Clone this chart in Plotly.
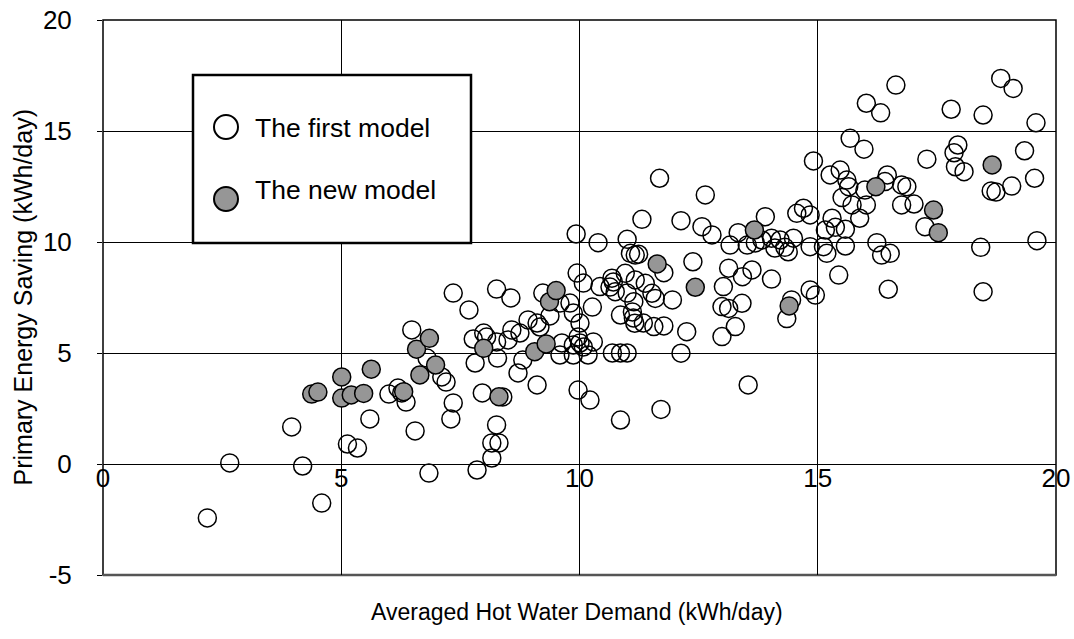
import plotly.graph_objects as go

# ---- data ----
first_x = [2.19, 2.66, 3.96, 4.19, 4.59, 5.13, 5.34,
           6.00, 6.19, 6.27, 6.36, 7.11, 7.20, 6.80, 7.35, 7.30, 5.60, 6.55, 7.81, 8.28,
           7.96, 8.39, 8.26, 8.16, 8.31, 8.16, 7.85, 6.84, 8.71, 8.81, 9.11, 9.59, 9.87,
           9.97, 10.22, 10.86, 11.71, 13.54, 12.13,
           7.35, 7.68, 8.26, 8.56, 6.48, 7.77, 7.99, 8.05, 8.26, 8.50, 8.58, 8.75, 8.92,
           9.17, 9.23, 9.38, 9.59, 9.80, 9.87, 9.95, 9.63, 9.11, 9.93,
           10.08, 10.27, 9.97, 10.01, 9.87, 10.08, 10.29, 10.18, 10.69, 10.86, 11.00,
           10.86, 11.11, 11.13, 10.64, 10.71, 11.00, 11.34, 10.01,
           11.16, 11.56, 11.77, 12.25, 12.99, 13.27, 14.35, 11.68, 12.64, 11.31, 12.13,
           12.57, 12.78, 10.39, 11.00, 11.07, 11.17, 11.24, 11.77, 12.38, 13.13, 13.42,
           13.62, 14.03, 13.02, 13.16, 13.33, 13.90, 13.83, 13.52, 13.69, 14.03, 14.10,
           14.21, 14.31, 14.38, 14.49, 14.56, 14.70, 14.84, 14.91, 14.84, 14.45, 14.84,
           14.95, 10.68, 10.75, 10.96, 11.17, 11.38, 11.52, 11.59, 10.43, 11.14, 11.95,
           12.99, 13.13, 13.41,
           16.64, 16.02, 16.32, 17.80, 18.47, 18.84, 19.10, 19.58, 15.68, 15.97, 17.29,
           17.94, 17.86, 17.89, 18.07, 19.34, 19.55, 19.07, 18.64, 18.74, 15.26, 15.47,
           15.61, 15.65, 16.46, 16.41, 16.76, 16.87, 15.99, 15.51, 15.72, 16.02, 15.88,
           16.76, 17.02, 17.25, 15.30, 15.16, 15.37, 15.58, 15.12, 15.19, 15.58, 16.24,
           16.34, 16.52, 15.44, 16.48, 18.42, 18.47, 19.60]
first_y = [-2.43, 0.05, 1.67, -0.09, -1.76, 0.90, 0.72,
           3.15, 3.42, 3.20, 2.79, 3.92, 3.69, 4.77, 2.75, 2.03, 2.03, 1.49, 4.55, 4.77,
           3.20, 3.02, 1.76, 0.95, 0.95, 0.27, -0.27, -0.41, 4.10, 4.68, 3.56, 4.91, 4.91,
           3.33, 2.88, 1.98, 2.46, 3.56, 4.99,
           7.70, 6.94, 7.88, 7.48, 6.04, 5.63, 5.90, 5.72, 5.50, 5.59, 6.04, 5.90, 6.49,
           6.17, 7.70, 6.67, 7.25, 7.25, 6.80, 8.60, 5.45, 6.35, 10.36,
           8.15, 7.07, 5.72, 5.45, 5.36, 5.27, 5.50, 4.91, 5.00, 5.00, 5.00,
           6.71, 6.85, 6.58, 7.97, 8.20, 7.70, 6.35, 6.35,
           6.34, 6.19, 6.22, 5.96, 5.74, 6.19, 6.55, 12.87, 12.12, 11.02, 10.96,
           10.69, 10.32, 9.97, 10.12, 9.49, 9.41, 9.45, 8.62, 9.11, 8.82, 8.44,
           8.74, 8.33, 7.99, 9.86, 10.42, 11.14, 10.09, 9.86, 9.96, 10.17, 9.73,
           10.09, 9.76, 9.56, 10.17, 11.29, 11.52, 11.22, 13.65, 9.79, 7.39, 7.84,
           7.61, 8.37, 7.76, 8.59, 8.29, 8.14, 7.69, 7.46, 7.99, 7.31, 7.39,
           7.09, 7.01, 7.24,
           17.07, 16.25, 15.82, 15.98, 15.72, 17.37, 16.92, 15.37, 14.67, 14.18, 13.73,
           14.37, 14.02, 13.39, 13.17, 14.11, 12.87, 12.52, 12.30, 12.25, 13.02, 13.24,
           12.79, 12.49, 13.02, 12.72, 12.57, 12.49, 12.34, 12.00, 11.67, 11.67, 11.07,
           11.67, 11.71, 10.69, 11.07, 10.54, 10.66, 10.57, 9.79, 9.49, 9.82, 9.97,
           9.41, 9.49, 8.51, 7.87, 9.76, 7.76, 10.06]

new_x = [4.38, 4.51, 5.01, 5.01, 5.21, 5.47, 5.63, 6.31, 6.58, 6.85, 6.65, 6.98, 7.99,
         8.31, 9.06, 9.30, 9.37, 9.51, 11.63, 12.43, 13.67, 14.40, 16.22, 17.43, 17.53, 18.66]
new_y = [3.15, 3.24, 3.92, 2.97, 3.11, 3.18, 4.27, 3.26, 5.17, 5.66, 4.01, 4.46, 5.21,
         3.03, 5.06, 5.41, 7.31, 7.81, 9.01, 7.96, 10.54, 7.12, 12.49, 11.44, 10.42, 13.47]

series_names = ["The first model", "The new model"]
x_ticks = [0, 5, 10, 15, 20]
y_ticks = [-5, 0, 5, 10, 15, 20]
x_title = "Averaged Hot Water Demand (kWh/day)"
y_title = "Primary Energy Saving (kWh/day)"

FONT = "Liberation Sans, Arial, sans-serif"
GRAY = "#969696"

fig = go.Figure()
fig.add_trace(go.Scatter(
    x=first_x, y=first_y, mode="markers", name=series_names[0], showlegend=False,
    marker=dict(symbol="circle-open", size=18, color="black", line=dict(width=1.5, color="black")),
))
fig.add_trace(go.Scatter(
    x=new_x, y=new_y, mode="markers", name=series_names[1], showlegend=False,
    marker=dict(symbol="circle", size=18, color=GRAY, line=dict(width=1.5, color="black")),
))

# plot-area geometry in pixels
W, H = 1074, 639
L, R, T, B = 103, 18, 20, 64
PW, PH = W - L - R, H - T - B

def px_x(p):
    return (p - L) / PW

def px_y(p):
    return (H - B - p) / PH

shapes = [
    # plot frame
    dict(type="rect", xref="paper", yref="paper", x0=0, x1=1, y0=0, y1=1,
         line=dict(color="black", width=1.5), fillcolor="rgba(0,0,0,0)", layer="between"),
    # slightly heavier bottom edge, as in the reference
    dict(type="line", xref="paper", yref="paper", x0=0, x1=1, y0=0, y1=0,
         line=dict(color="#555555", width=2.5), layer="between"),
    # legend box
    dict(type="rect", xref="paper", yref="paper", x0=px_x(193), x1=px_x(471),
         y0=px_y(243), y1=px_y(75), line=dict(color="black", width=2.5),
         fillcolor="white", layer="above"),
]
for cy, fill in [(127, "white"), (199, GRAY)]:
    shapes.append(dict(type="circle", xref="paper", yref="paper",
                       xsizemode="pixel", ysizemode="pixel",
                       xanchor=px_x(226), yanchor=px_y(cy),
                       x0=-12, x1=12, y0=-12, y1=12,
                       line=dict(color="black", width=2), fillcolor=fill, layer="above"))

annotations = [
    dict(text=series_names[0], xref="paper", yref="paper", x=px_x(253), y=px_y(128),
         xanchor="left", yanchor="middle", showarrow=False, font=dict(size=26.5, color="black", family=FONT)),
    dict(text=series_names[1], xref="paper", yref="paper", x=px_x(253), y=px_y(190),
         xanchor="left", yanchor="middle", showarrow=False, font=dict(size=26.5, color="black", family=FONT)),
    dict(text=x_title, xref="paper", yref="paper", x=px_x(577), y=px_y(612),
         xanchor="center", yanchor="middle", showarrow=False, font=dict(size=23, color="black", family=FONT)),
    dict(text=y_title, xref="paper", yref="paper", x=px_x(22), y=0.5, textangle=-90,
         xanchor="center", yanchor="middle", showarrow=False, font=dict(size=25, color="black", family=FONT)),
]

fig.update_layout(
    width=W, height=H,
    margin=dict(l=L, r=R, t=T, b=B, pad=0, autoexpand=False),
    paper_bgcolor="white", plot_bgcolor="white",
    font=dict(family=FONT, color="black", size=26),
    showlegend=False,
    shapes=shapes, annotations=annotations,
    xaxis=dict(range=[0, 20], tickvals=x_ticks, ticktext=[str(v) for v in x_ticks],
               anchor="free", position=0.2, showline=False, zeroline=False, automargin=False,
               showgrid=True, gridcolor="black", gridwidth=1, ticks="", ticklabelstandoff=-4,
               tickfont=dict(size=26, family=FONT, color="black")),
    yaxis=dict(range=[-5, 20], tickvals=y_ticks, ticktext=[str(v) for v in y_ticks],
               showline=False, zeroline=False, showgrid=True, gridcolor="black", gridwidth=1,
               automargin=False,
               ticks="outside", ticklen=5, tickcolor="black", ticklabelstandoff=20,
               tickfont=dict(size=26, family=FONT, color="black")),
)

# remove the browser's default page margin so the figure sits at the window's top-left
fig.write_html("out.html", config={"displayModeBar": False},
               post_script="document.body.style.margin='0px';")
